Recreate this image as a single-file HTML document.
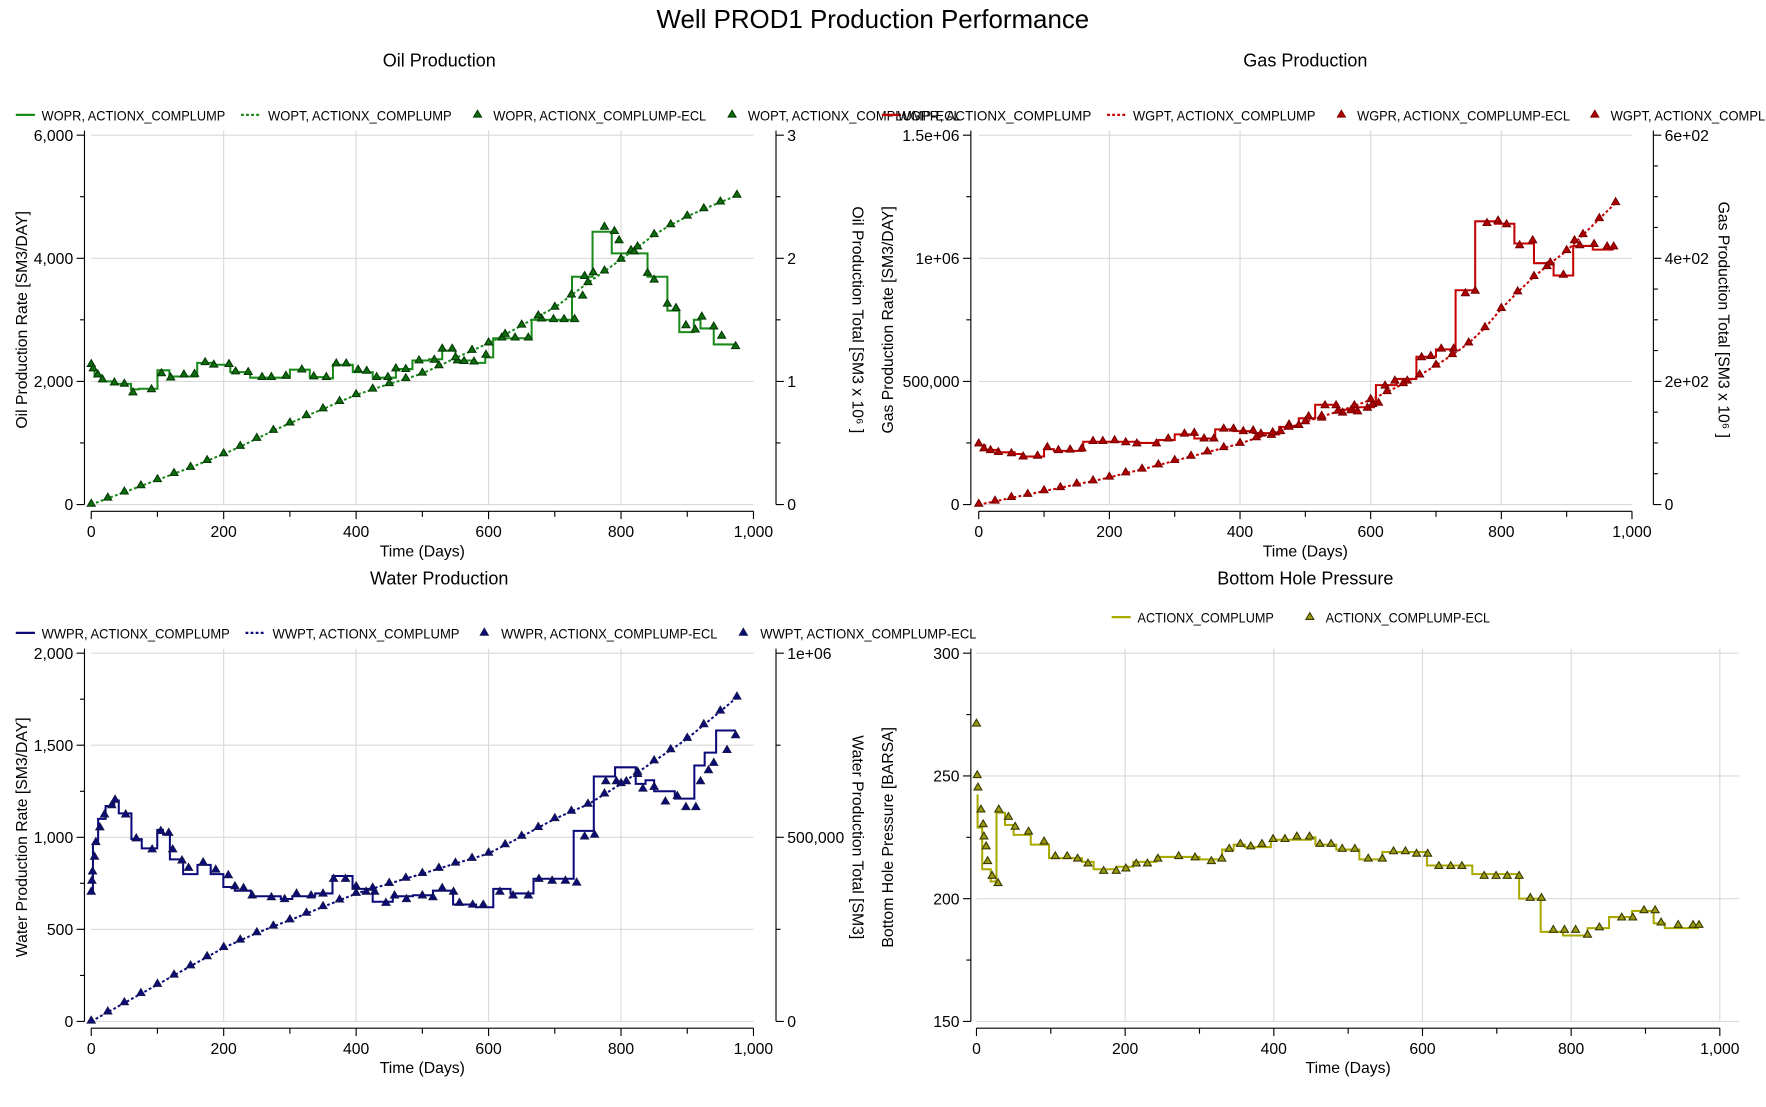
<!DOCTYPE html>
<html><head><meta charset="utf-8"><style>
html,body{margin:0;padding:0;background:#fff;width:1766px;height:1107px;overflow:hidden}
svg{display:block}
text{font-family:"Liberation Sans","DejaVu Sans",sans-serif;fill:#000}
</style></head><body>
<svg id="chart" xmlns="http://www.w3.org/2000/svg" width="1766" height="1107" viewBox="0 0 1568 983" preserveAspectRatio="none">
<text x="775" y="25" font-size="23" text-anchor="middle">Well PROD1 Production Performance</text>
</svg>
<script>
// ---------- DATA ----------
const oilRateT=[0,5,15,35,60,72,100,118,160,185,210,240,300,330,355,365,395,425,460,485,510,530,550,575,595,607,665,726,757,786,816,840,870,888,910,920,940,972];
const oilRateV=[2230,2100,2000,1960,1870,1880,2180,2080,2300,2270,2150,2060,2190,2070,2050,2270,2150,2060,2200,2340,2360,2500,2340,2300,2390,2700,3000,3700,4430,4080,4080,3700,3150,2800,3000,2860,2600];
const oilRateEclT=[0,3,10,17,35,50,63,91,106,120,140,156,172,185,208,218,237,258,272,294,318,336,355,370,385,403,416,431,448,460,475,495,518,530,545,553,563,578,596,620,640,660,680,698,714,730,742,745,758,775,790,797,815,820,840,850,870,883,898,912,922,940,952,973];
const oilRateEclV=[2270,2200,2100,2020,1970,1950,1810,1860,2120,2050,2100,2110,2300,2260,2270,2150,2140,2060,2060,2080,2180,2070,2060,2280,2280,2180,2160,2060,2060,2200,2190,2330,2340,2520,2520,2330,2320,2310,2420,2700,2700,2700,3010,3000,3000,3000,3380,3700,3760,4500,4430,4280,4120,4100,3750,3640,3250,3180,2900,2830,3040,2880,2730,2560];
const cumT=[0,25,50,75,100,125,150,175,200,225,250,275,300,325,350,375,400,425,450,475,500,525,550,575,600,625,650,675,700,725,750,775,800,825,850,875,900,925,950,975];
const oilTotalV=[0,.05,.10,.15,.20,.25,.30,.355,.41,.47,.535,.60,.66,.72,.775,.835,.89,.935,.98,1.02,1.065,1.125,1.19,1.25,1.31,1.38,1.455,1.53,1.60,1.70,1.80,1.895,1.99,2.09,2.19,2.27,2.34,2.40,2.455,2.51];
const gasRateT=[0,10,28,55,68,100,115,160,210,245,275,300,330,362,390,420,445,460,482,490,515,550,575,605,608,640,670,700,730,760,790,820,850,880,910,940,972];
const gasRateV=[240,222,212,205,195,225,218,255,255,250,262,285,268,305,298,290,285,315,318,350,405,385,395,405,485,510,600,630,870,1150,1140,1060,980,930,1050,1035];
const gasRateEclT=[0,8,18,30,50,68,90,105,122,140,158,175,190,208,225,242,272,290,315,330,345,360,375,390,405,420,432,448,462,475,490,505,525,530,547,557,570,580,595,603,612,622,637,656,678,692,708,727,745,760,778,795,808,828,848,870,895,912,920,942,962,972];
const gasRateEclV=[245,225,218,210,205,192,195,230,218,220,225,255,255,258,250,245,245,265,285,288,265,265,305,305,295,298,285,280,295,322,320,355,350,400,400,370,380,375,390,405,410,480,500,500,595,600,630,630,855,865,1140,1150,1135,1050,1070,965,930,1070,1050,1055,1045,1045];
const gasTotalV=[0,5,11,16,22,27,33,38,44,51,57,64,71,78,85,92,99,108,116,125,134,143,151,160,170,183,196,210,226,243,262,287,318,345,370,392,412,438,464,490];
const waterRateT=[0,2.6,10.4,21.7,34.7,41.6,60.7,76.3,99.7,108.4,118.8,138.8,160.4,180.4,199.5,216.8,241.1,286.2,303.6,338.2,364.3,394.6,425,455.3,485.7,516,546.4,581.1,607.1,633.1,667.8,728.5,758.9,791,822.2,837,850,881.2,910.7,926.3,943.6,973.1];
const waterRateV=[700,965,1100,1170,1200,1130,990,940,1040,1015,880,800,850,800,730,710,680,665,680,695,790,720,650,680,685,710,635,620,720,695,775,1035,1330,1380,1290,1310,1250,1210,1390,1460,1580];
const waterRateEclT=[0,1,2,5,7,13,20,31,36,52,68,92,105,117,123,137,147,169,188,207,217,230,243,272,292,310,332,350,366,384,400,415,428,445,458,476,500,516,530,547,556,576,592,617,637,660,676,696,716,733,745,760,777,793,808,825,833,850,867,885,898,913,920,932,940,960,973];
const waterRateEclV=[700,760,810,890,970,1050,1120,1170,1200,1120,990,930,1030,1020,930,870,830,860,820,790,730,720,680,670,660,690,680,690,770,770,730,700,700,640,680,660,680,670,720,700,640,630,630,700,680,680,770,760,760,750,1000,1010,1300,1300,1300,1340,1260,1270,1190,1220,1160,1160,1300,1360,1400,1470,1550];
const waterTotalV=[0,25,50,75,100,125,150,175,200,220,240,258,275,293,311,329,347,361,374,388,401,415,429,442,456,479,502,526,550,570,589,617,645,676,707,737,768,805,842,880];
const bhpT=[0,1.5,7.7,19.2,26.9,38.4,50,73,97.6,142,157.6,188,211,242,300,330.5,346,361,396,450,456,484,515,546,606,667,730,759,789,822,851,882,911,926,972];
const bhpV=[242,229,212,207,235,230,226,222,216.5,215,212,213,215,217,216,220,222,221,224,225,222,220,216,219,213.5,210,200,186.5,185,188,192.5,195,190,188];
const bhpEclT=[0,1,2,6,9,10,13,15,21,29,30,43,52,70,91,106,122,136,150,171,188,201,215,230,244,272,294,316,330,340,355,369,384,399,415,431,448,462,477,492,509,527,546,561,577,592,607,622,638,653,683,699,714,730,745,760,776,791,806,822,838,868,883,898,913,921,944,964,972];
const bhpEclV=[271,250,245,236,230,225,221,215,209,206,236,233,229,227,223,217,217,216,214,211,211,212,214,214,216,217,216.5,215,216,220,222,221,222,224,224,225,225,222,222,220,220,216,216,219,219,218,218,213,213,213,209,209,209,209,200,200,187,187,187,185,188,192,192,195,195,190,189,189,189];
const xTicks=[0,200,400,600,800,1000];
const xTickLabels=["0","200","400","600","800","1,000"];

// ---------- DRAWING ----------
const NS='http://www.w3.org/2000/svg';
const svg=document.getElementById('chart');
function mk(tag,parent){const e=document.createElementNS(NS,tag);parent.appendChild(e);return e;}
function lin(d0,d1,p0,p1){return v=>p0+(v-d0)/(d1-d0)*(p1-p0);}

function panel(c){
  const g=mk('g',svg);
  
  
  const X=lin(0,1000,c.x0,c.x1), YL=lin(c.yl[0],c.yl[1],c.yb,c.yt);
  const YR=c.yr?lin(c.yr[0],c.yr[1],c.yb,c.yt):null;
  // title
  const t=mk('text',g);t.setAttribute('x',c.tx);t.setAttribute('y',c.ty);t.setAttribute('font-size','16');t.setAttribute('text-anchor','middle');t.textContent=c.title;
  
  
  // grid
  const gw=c.gridRight||c.x1;
  xTicks.forEach(v=>{ if(v===0||(v===1000&&!c.grid1000))return;
    const l=mk('line',g);l.setAttribute('x1',X(v));l.setAttribute('x2',X(v));l.setAttribute('y1',c.yt-4);l.setAttribute('y2',c.yb);l.setAttribute('stroke','#d9d9d9');
    
    });
  c.lt.forEach(v=>{const l=mk('line',g);l.setAttribute('x1',c.x0);l.setAttribute('x2',gw);l.setAttribute('y1',YL(v));l.setAttribute('y2',YL(v));l.setAttribute('stroke','#d9d9d9');
    
    });
  // left axis
  const la=mk('path',g);
  let d=`M${c.ax} ${c.yt-4}V${c.yb}`;
  c.lt.forEach(v=>{d+=`M${c.ax-7} ${YL(v)}H${c.ax}`;});
  c.lm.forEach(v=>{d+=`M${c.ax-4} ${YL(v)}H${c.ax}`;});
  la.setAttribute('d',d);la.setAttribute('stroke','#000');la.setAttribute('fill','none');
  
  
  c.lt.forEach((v,i)=>{const s=mk('text',g);s.setAttribute('x',c.ax-10);s.setAttribute('y',YL(v)+5);s.setAttribute('font-size','14');s.setAttribute('text-anchor','end');s.textContent=c.ll[i];
    
    });
  if(YR){
    const ra=mk('path',g);
    let d2=`M${c.rx} ${c.yt-4}V${c.yb}`;
    c.rt.forEach(v=>{d2+=`M${c.rx} ${YR(v)}H${c.rx+7}`;});
    c.rm.forEach(v=>{d2+=`M${c.rx} ${YR(v)}H${c.rx+4}`;});
    ra.setAttribute('d',d2);ra.setAttribute('stroke','#000');ra.setAttribute('fill','none');
    
    
    c.rt.forEach((v,i)=>{const s=mk('text',g);s.setAttribute('x',c.rx+10);s.setAttribute('y',YR(v)+5);s.setAttribute('font-size','14');s.textContent=c.rl[i];
      
      });
    const rt=mk('text',g);rt.setAttribute('font-size','14');rt.setAttribute('text-anchor','middle');
    rt.setAttribute('transform',`translate(${c.rtx},${(c.yt+c.yb)/2}) rotate(90)`);rt.textContent=c.rtitle;
    
    
  }
  // bottom axis
  const by=c.yb+6;
  const ba=mk('path',g);
  let d3=`M${c.x0} ${by}H${c.x1}`;
  for(let v=0;v<=1000;v+=100){d3+=`M${X(v)} ${by}V${by+(v%200===0?7:5)}`;}
  ba.setAttribute('d',d3);ba.setAttribute('stroke','#000');ba.setAttribute('fill','none');
  
  
  xTicks.forEach((v,i)=>{const s=mk('text',g);s.setAttribute('x',X(v));s.setAttribute('y',by+23);s.setAttribute('font-size','14');s.setAttribute('text-anchor','middle');s.textContent=xTickLabels[i];
    
    });
  const xt=mk('text',g);xt.setAttribute('x',(c.x0+c.x1)/2);xt.setAttribute('y',by+40);xt.setAttribute('font-size','14');xt.setAttribute('text-anchor','middle');xt.textContent='Time (Days)';
  
  
  const lt=mk('text',g);lt.setAttribute('font-size','14');lt.setAttribute('text-anchor','middle');
  lt.setAttribute('transform',`translate(${c.ltx},${(c.yt+c.yb)/2}) rotate(-90)`);lt.textContent=c.ltitle;
  
  
  // series
  c.series.forEach(s=>{
    const Y=s.axis==='r'?YR:YL;
    if(s.kind==='step'){
      let p=`M${X(s.t[0])} ${Y(s.v[0])}`;
      for(let i=0;i<s.v.length;i++){p+=`V${Y(s.v[i])}H${X(s.t[i+1])}`;}
      const e=mk('path',g);e.setAttribute('d',p);e.setAttribute('fill','none');e.setAttribute('stroke',s.color);e.setAttribute('stroke-width','1.8');
      
      
    } else if(s.kind==='dot'){
      const e=mk('polyline',g);e.setAttribute('points',s.t.map((t,i)=>X(t)+','+Y(s.v[i])).join(' '));e.setAttribute('fill','none');e.setAttribute('stroke',s.color);e.setAttribute('stroke-width','1.8');e.setAttribute('stroke-dasharray','2.5 2');
      
      
    } else {
      const mg=mk('g',g);
      
      
      s.t.forEach((t,i)=>{const x=X(t),y=Y(s.v[i]);const m=mk('path',mg);m.setAttribute('d',`M${x} ${y-4.5}L${x+3.5} ${y+1.5}L${x-3.5} ${y+1.5}Z`);m.setAttribute('fill',s.color);m.setAttribute('stroke',s.edge);m.setAttribute('stroke-width','1');
        
        });
    }
  });
  // legend
  c.legend.forEach(L=>{
    const lg=mk('g',g);
    
    
    if(L.type==='tri'){const m=mk('path',lg);m.setAttribute('d',`M${L.x+8} ${c.ly-9}L${L.x+11.5} ${c.ly-3}L${L.x+4.5} ${c.ly-3}Z`);m.setAttribute('fill',L.color);m.setAttribute('stroke',L.edge);}
    else{const l=mk('line',lg);l.setAttribute('x1',L.x);l.setAttribute('x2',L.x+17);l.setAttribute('y1',c.ly-5);l.setAttribute('y2',c.ly-5);l.setAttribute('stroke',L.color);l.setAttribute('stroke-width','2');if(L.type==='dot')l.setAttribute('stroke-dasharray','2.5 2');}
    const s=mk('text',lg);s.setAttribute('x',L.tx);s.setAttribute('y',c.ly);s.setAttribute('font-size','12.5');s.setAttribute('textLength',L.len);s.setAttribute('lengthAdjust','spacingAndGlyphs');s.textContent=L.text;
  });
}

const G='#1a8a1a',GD='#0b5e0b',R='#c40000',RD='#7a0000',B='#0a0a7a',BD='#141450',Y='#a9a900',YD='#3a3a00';
panel({name:'oil-production-panel',title:'Oil Production',tx:390,ty:59,x0:81,x1:669,yt:120,yb:448,ax:75,rx:689,
  yl:[0,6000],lt:[0,2000,4000,6000],ll:['0','2,000','4,000','6,000'],lm:[1000,3000,5000],
  yr:[0,3],rt:[0,1,2,3],rl:['0','1','2','3'],rm:[.5,1.5,2.5],
  ltitle:'Oil Production Rate [SM3/DAY]',ltx:24,rtitle:'Oil Production Total [SM3 x 10⁶ ]',rtx:757,ly:107,
  series:[{kind:'step',t:oilRateT,v:oilRateV,color:G,name:'wopr-line'},{kind:'dot',t:cumT,v:oilTotalV,axis:'r',color:G,name:'wopt-line'},
    {kind:'tri',t:oilRateEclT,v:oilRateEclV,color:'#0d6e0d',edge:'#053a05',name:'wopr-ecl-markers'},{kind:'tri',t:cumT,v:oilTotalV,axis:'r',color:'#0d6e0d',edge:'#053a05',name:'wopt-ecl-markers'}],
  legend:[{type:'line',x:14,tx:37,text:'WOPR, ACTIONX_COMPLUMP',len:163,color:G},{type:'dot',x:214,tx:238,text:'WOPT, ACTIONX_COMPLUMP',len:163,color:G},
    {type:'tri',x:416,tx:438,text:'WOPR, ACTIONX_COMPLUMP-ECL',len:189,color:'#0d6e0d',edge:'#053a05'},{type:'tri',x:642,tx:664,text:'WOPT, ACTIONX_COMPLUMP-ECL',len:189,color:'#0d6e0d',edge:'#053a05'}]});
panel({name:'gas-production-panel',title:'Gas Production',tx:1159,ty:59,x0:869,x1:1449,yt:120,yb:448,ax:862,rx:1468,
  yl:[0,1500],lt:[0,500,1000,1500],ll:['0','500,000','1e+06','1.5e+06'],lm:[250,750,1250],
  yr:[0,600],rt:[0,200,400,600],rl:['0','2e+02','4e+02','6e+02'],rm:[50,100,150,250,300,350,450,500,550],
  ltitle:'Gas Production Rate [SM3/DAY]',ltx:793,rtitle:'Gas Production Total [SM3 x 10⁶ ]',rtx:1526,ly:107,
  series:[{kind:'step',t:gasRateT,v:gasRateV,color:R,name:'wgpr-line'},{kind:'dot',t:cumT,v:gasTotalV,axis:'r',color:R,name:'wgpt-line'},
    {kind:'tri',t:gasRateEclT,v:gasRateEclV,color:'#b00000',edge:RD,name:'wgpr-ecl-markers'},{kind:'tri',t:cumT,v:gasTotalV,axis:'r',color:'#b00000',edge:RD,name:'wgpt-ecl-markers'}],
  legend:[{type:'line',x:783,tx:797,text:'WGPR, ACTIONX_COMPLUMP',len:172,color:R},{type:'dot',x:983,tx:1006,text:'WGPT, ACTIONX_COMPLUMP',len:162,color:R},
    {type:'tri',x:1183,tx:1205,text:'WGPR, ACTIONX_COMPLUMP-ECL',len:189,color:'#b00000',edge:RD},{type:'tri',x:1408,tx:1430,text:'WGPT, ACTIONX_COMPLUMP-ECL',len:189,color:'#b00000',edge:RD}]});
panel({name:'water-production-panel',title:'Water Production',tx:390,ty:519,x0:81,x1:669,yt:580,yb:907,ax:75,rx:689,
  yl:[0,2000],lt:[0,500,1000,1500,2000],ll:['0','500','1,000','1,500','2,000'],lm:[250,750,1250,1750],
  yr:[0,1000],rt:[0,500,1000],rl:['0','500,000','1e+06'],rm:[250,750],
  ltitle:'Water Production Rate [SM3/DAY]',ltx:24,rtitle:'Water Production Total [SM3]',rtx:757,ly:567,
  series:[{kind:'step',t:waterRateT,v:waterRateV,color:B,name:'wwpr-line'},{kind:'dot',t:cumT,v:waterTotalV,axis:'r',color:B,name:'wwpt-line'},
    {kind:'tri',t:waterRateEclT,v:waterRateEclV,color:B,edge:BD,name:'wwpr-ecl-markers'},{kind:'tri',t:cumT,v:waterTotalV,axis:'r',color:B,edge:BD,name:'wwpt-ecl-markers'}],
  legend:[{type:'line',x:14,tx:37,text:'WWPR, ACTIONX_COMPLUMP',len:167,color:B},{type:'dot',x:218,tx:242,text:'WWPT, ACTIONX_COMPLUMP',len:166,color:B},
    {type:'tri',x:422,tx:445,text:'WWPR, ACTIONX_COMPLUMP-ECL',len:192,color:B,edge:BD},{type:'tri',x:652,tx:675,text:'WWPT, ACTIONX_COMPLUMP-ECL',len:192,color:B,edge:BD}]});
panel({name:'bottom-hole-pressure-panel',title:'Bottom Hole Pressure',tx:1159,ty:519,x0:867,x1:1527,yt:580,yb:907,ax:862,gridRight:1544,grid1000:true,
  yl:[150,300],lt:[150,200,250,300],ll:['150','200','250','300'],lm:[175,225,275],
  ltitle:'Bottom Hole Pressure [BARSA]',ltx:793,ly:553,
  series:[{kind:'step',t:bhpT,v:bhpV,color:Y,name:'bhp-line'},{kind:'tri',t:bhpEclT,v:bhpEclV,color:'#9a9a10',edge:YD,name:'bhp-ecl-markers'}],
  legend:[{type:'line',x:987,tx:1010,text:'ACTIONX_COMPLUMP',len:121,color:Y},{type:'tri',x:1155,tx:1177,text:'ACTIONX_COMPLUMP-ECL',len:146,color:'#9a9a10',edge:YD}]});
</script>
</body></html>
